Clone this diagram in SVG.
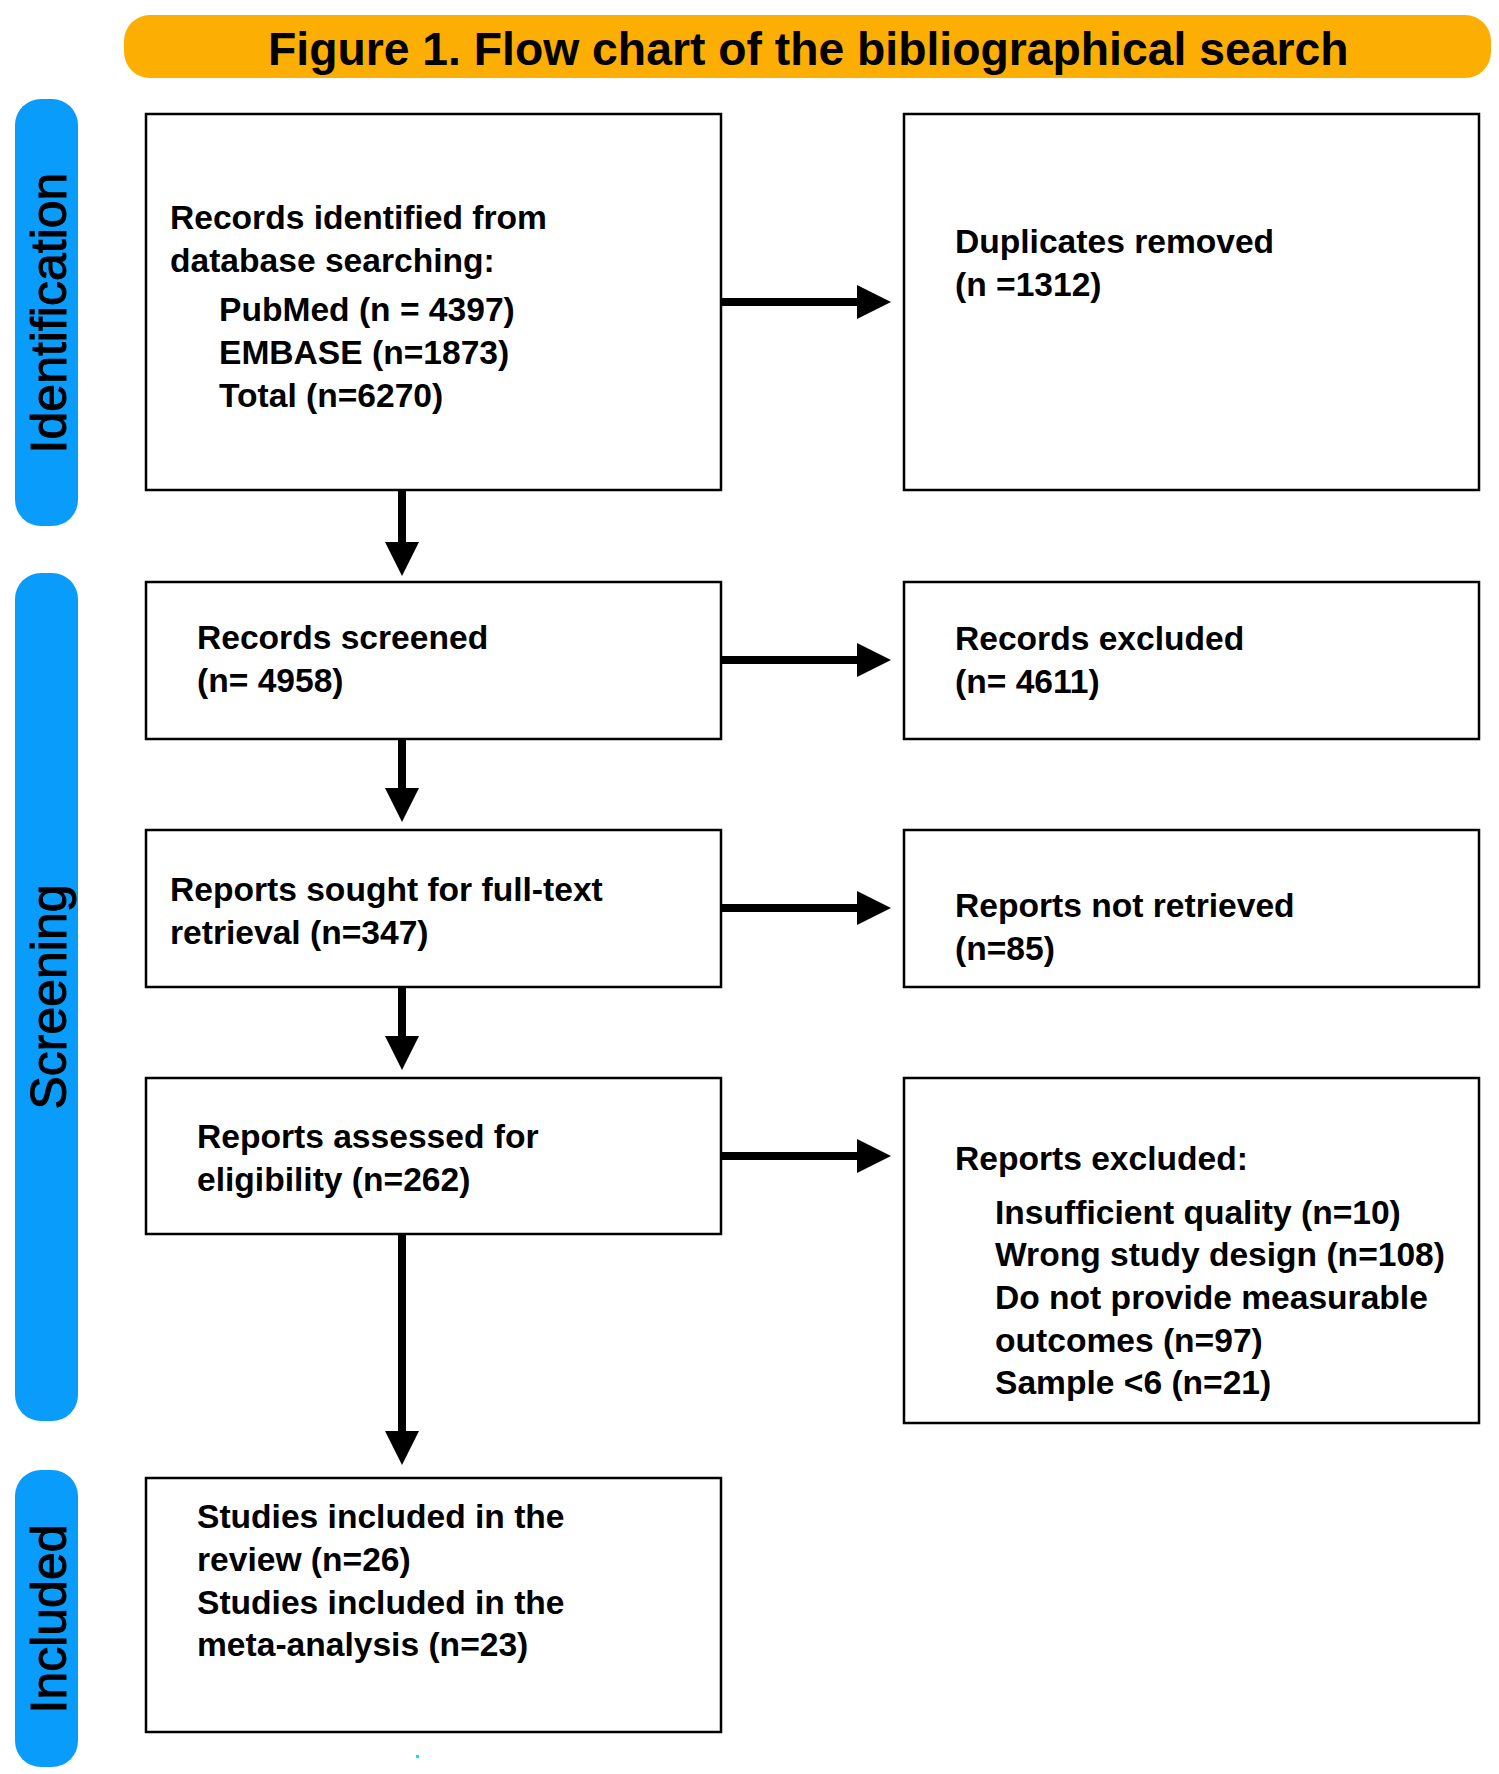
<svg xmlns="http://www.w3.org/2000/svg" width="1499" height="1774" viewBox="0 0 1499 1774">
  <style>
    .box { fill: #ffffff; stroke: #000000; stroke-width: 2.5; }
    .t { font-family: "Liberation Sans", Arial, Helvetica, sans-serif; font-weight: bold; font-size: 33.6px; fill: #000000; }
    .title { font-family: "Liberation Sans", Arial, Helvetica, sans-serif; font-weight: bold; font-size: 46.3px; fill: #000000; }
    .pill { fill: #0A9CFB; }
    .pl { font-family: "Liberation Sans", Arial, Helvetica, sans-serif; font-size: 50px; fill: #000000; stroke: #000000; stroke-width: 1; text-anchor: middle; }
    .conn { stroke: #000000; stroke-width: 8; fill: none; }
  </style>
  <defs>
    <marker id="head" markerUnits="userSpaceOnUse" markerWidth="34" markerHeight="34" refX="0" refY="17" orient="auto" viewBox="0 0 34 34">
      <path d="M0,0 L34,17 L0,34 Z" fill="#000000"/>
    </marker>
  </defs>
  <rect width="1499" height="1774" fill="#ffffff"/>

  <g id="title">
    <rect x="124" y="15" width="1367" height="63" rx="26" ry="26" fill="#FDAE02"/>
    <text class="title" x="268" y="65">Figure 1. Flow chart of the bibliographical search</text>
  </g>

  <g id="phase-identification">
    <rect class="pill" x="15" y="99" width="63" height="427" rx="26" ry="26"/>
    <text class="pl" transform="translate(65.5,313) rotate(-90)" x="0" y="0">Identification</text>
  </g>
  <g id="phase-screening">
    <rect class="pill" x="15" y="573" width="63" height="848" rx="26" ry="26"/>
    <text class="pl" transform="translate(65.5,997) rotate(-90)" x="0" y="0">Screening</text>
  </g>
  <g id="phase-included">
    <rect class="pill" x="15" y="1470" width="63" height="297" rx="26" ry="26"/>
    <text class="pl" transform="translate(65.5,1619) rotate(-90)" x="0" y="0">Included</text>
  </g>

  <g id="connectors">
    <line class="conn" x1="721" y1="302" x2="857" y2="302" marker-end="url(#head)"/>
    <line class="conn" x1="721" y1="660" x2="857" y2="660" marker-end="url(#head)"/>
    <line class="conn" x1="721" y1="908" x2="857" y2="908" marker-end="url(#head)"/>
    <line class="conn" x1="721" y1="1156" x2="857" y2="1156" marker-end="url(#head)"/>
    <line class="conn" x1="402" y1="490" x2="402" y2="542" marker-end="url(#head)"/>
    <line class="conn" x1="402" y1="739" x2="402" y2="788" marker-end="url(#head)"/>
    <line class="conn" x1="402" y1="987" x2="402" y2="1036" marker-end="url(#head)"/>
    <line class="conn" x1="402" y1="1234" x2="402" y2="1431" marker-end="url(#head)"/>
  </g>

  <g id="records-identified">
    <rect class="box" x="146" y="114" width="575" height="376"/>
    <text class="t" x="170" y="229">Records identified from</text>
    <text class="t" x="170" y="272">database searching:</text>
    <text class="t" x="219" y="321">PubMed (n = 4397)</text>
    <text class="t" x="219" y="364">EMBASE (n=1873)</text>
    <text class="t" x="219" y="407">Total (n=6270)</text>
  </g>

  <g id="duplicates-removed">
    <rect class="box" x="904" y="114" width="575" height="376"/>
    <text class="t" x="955" y="253">Duplicates removed</text>
    <text class="t" x="955" y="296">(n =1312)</text>
  </g>

  <g id="records-screened">
    <rect class="box" x="146" y="582" width="575" height="157"/>
    <text class="t" x="197" y="649">Records screened</text>
    <text class="t" x="197" y="692">(n= 4958)</text>
  </g>

  <g id="records-excluded">
    <rect class="box" x="904" y="582" width="575" height="157"/>
    <text class="t" x="955" y="650">Records excluded</text>
    <text class="t" x="955" y="693">(n= 4611)</text>
  </g>

  <g id="reports-sought">
    <rect class="box" x="146" y="830" width="575" height="157"/>
    <text class="t" x="170" y="901">Reports sought for full-text</text>
    <text class="t" x="170" y="944">retrieval (n=347)</text>
  </g>

  <g id="reports-not-retrieved">
    <rect class="box" x="904" y="830" width="575" height="157"/>
    <text class="t" x="955" y="917">Reports not retrieved</text>
    <text class="t" x="955" y="960">(n=85)</text>
  </g>

  <g id="reports-assessed">
    <rect class="box" x="146" y="1078" width="575" height="156"/>
    <text class="t" x="197" y="1148">Reports assessed for</text>
    <text class="t" x="197" y="1191">eligibility (n=262)</text>
  </g>

  <g id="reports-excluded">
    <rect class="box" x="904" y="1078" width="575" height="345"/>
    <text class="t" x="955" y="1170">Reports excluded:</text>
    <text class="t" x="995" y="1224">Insufficient quality (n=10)</text>
    <text class="t" x="995" y="1266">Wrong study design (n=108)</text>
    <text class="t" x="995" y="1309">Do not provide measurable</text>
    <text class="t" x="995" y="1352">outcomes (n=97)</text>
    <text class="t" x="995" y="1394">Sample &lt;6 (n=21)</text>
  </g>

  <g id="studies-included">
    <rect class="box" x="146" y="1478" width="575" height="254"/>
    <text class="t" x="197" y="1528">Studies included in the</text>
    <text class="t" x="197" y="1571">review (n=26)</text>
    <text class="t" x="197" y="1614">Studies included in the</text>
    <text class="t" x="197" y="1656">meta-analysis (n=23)</text>
  </g>

  <rect x="416" y="1755" width="3" height="3" fill="#00E5FF"/>
</svg>
